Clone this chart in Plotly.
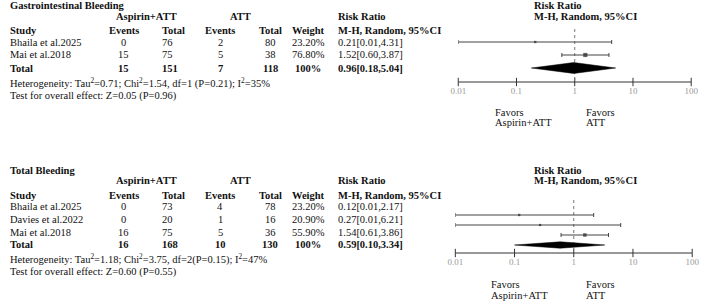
import plotly.graph_objects as go

W, H = 708, 302
FONT = "Liberation Serif, Times New Roman, serif"
FS = 10.5

# ---------------- data ----------------
gi_studies = ["Bhaila et al.2025", "Mai et al.2018"]
gi_asp_events = [0, 15]
gi_asp_total = [76, 75]
gi_att_events = [2, 5]
gi_att_total = [80, 38]
gi_weight = [23.20, 76.80]
gi_rr = [0.21, 1.52]
gi_lo = [0.01, 0.60]
gi_hi = [4.31, 3.87]
gi_total = {"asp_e": 15, "asp_t": 151, "att_e": 7, "att_t": 118, "w": "100%",
            "rr": 0.96, "lo": 0.18, "hi": 5.04}
gi_het = "Heterogeneity: Tau<sup>2</sup>=0.71; Chi<sup>2</sup>=1.54, df=1 (P=0.21); I<sup>2</sup>=35%"
gi_test = "Test for overall effect: Z=0.05 (P=0.96)"

tb_studies = ["Bhaila et al.2025", "Davies et al.2022", "Mai et al.2018"]
tb_asp_events = [0, 0, 16]
tb_asp_total = [73, 20, 75]
tb_att_events = [4, 1, 5]
tb_att_total = [78, 16, 36]
tb_weight = [23.20, 20.90, 55.90]
tb_rr = [0.12, 0.27, 1.54]
tb_lo = [0.01, 0.01, 0.61]
tb_hi = [2.17, 6.21, 3.86]
tb_total = {"asp_e": 16, "asp_t": 168, "att_e": 10, "att_t": 130, "w": "100%",
            "rr": 0.59, "lo": 0.10, "hi": 3.34}
tb_het = "Heterogeneity: Tau<sup>2</sup>=1.18; Chi<sup>2</sup>=3.75, df=2(P=0.15); I<sup>2</sup>=47%"
tb_test = "Test for overall effect: Z=0.60 (P=0.55)"

tick_vals = [0.01, 0.1, 1, 10, 100]
tick_text = ["0.01", "0.1", "1", "10", "100"]

# ---------------- helpers ----------------
def px(x):
    return x / W

def py(y):
    return 1 - y / H

annotations = []

def txt(x, y, s, bold=False, align="left", size=FS, color="#111"):
    annotations.append(dict(
        x=px(x), y=py(y), xref="paper", yref="paper", text=("<b>%s</b>" % s) if bold else s,
        showarrow=False, xanchor=align, yanchor="middle", align=align,
        borderpad=0, borderwidth=0,
        font=dict(family=FONT, size=size, color=color)))

def table(title, studies, ae, at, be, bt, wt, rr, lo, hi, tot, het, test, y0, rows_y, tot_y, het_y, test_y):
    txt(2, y0, title, bold=True)
    txt(141, y0 + 11, "Aspirin+ATT", bold=True, align="center")
    txt(238, y0 + 11, "ATT", bold=True, align="center")
    txt(337, y0 + 11, "Risk Ratio", bold=True)
    yh = y0 + 25
    txt(2, yh, "Study", bold=True)
    txt(118, yh, "Events", bold=True, align="center")
    txt(157, yh, "Total", bold=True)
    txt(217, yh, "Events", bold=True, align="center")
    txt(268, yh, "Total", bold=True, align="center")
    txt(307, yh, "Weight", bold=True, align="center")
    txt(337, yh, "M-H, Random, 95%CI", bold=True)
    for i, s in enumerate(studies):
        y = rows_y[i]
        txt(2, y, s)
        txt(118, y, str(ae[i]), align="center")
        txt(157, y, str(at[i]))
        txt(217, y, str(be[i]), align="center")
        txt(268, y, str(bt[i]), align="center")
        txt(307, y, "%.2f%%" % wt[i], align="center")
        txt(337, y, "%.2f[%.2f,%.2f]" % (rr[i], lo[i], hi[i]))
    txt(2, tot_y, "Total", bold=True)
    txt(118, tot_y, str(tot["asp_e"]), bold=True, align="center")
    txt(157, tot_y, str(tot["asp_t"]), bold=True)
    txt(217, tot_y, str(tot["att_e"]), bold=True, align="center")
    txt(268, tot_y, str(tot["att_t"]), bold=True, align="center")
    txt(307, tot_y, tot["w"], bold=True, align="center")
    txt(337, tot_y, "%.2f[%.2f,%.2f]" % (tot["rr"], tot["lo"], tot["hi"]), bold=True)
    txt(2, het_y, het)
    txt(2, test_y, test)

table("Gastrointestinal Bleeding", gi_studies, gi_asp_events, gi_asp_total, gi_att_events,
      gi_att_total, gi_weight, gi_rr, gi_lo, gi_hi, gi_total, gi_het, gi_test,
      6, [43, 55], 68, 83, 96)
table("Total Bleeding", tb_studies, tb_asp_events, tb_asp_total, tb_att_events,
      tb_att_total, tb_weight, tb_rr, tb_lo, tb_hi, tb_total, tb_het, tb_test,
      170, [207, 219, 232], 244, 259, 272)

# forest headers and favors labels
for (hx, hy, fx1, fx2, fy) in [(537, 6, 498, 590, 112), (537, 170, 493, 590, 284)]:
    txt(hx, hy, "Risk Ratio", bold=True)
    txt(hx, hy + 11, "M-H, Random, 95%CI", bold=True)
    txt(fx1, fy, "Favors")
    txt(fx1, fy + 11, "Aspirin+ATT")
    txt(fx2, fy, "Favors")
    txt(fx2, fy + 11, "ATT")

fig = go.Figure()
XR = [-2, 2]

def forest(xa, ya, rr, lo, hi, wt, tot, ybase, ytop):
    n = len(rr)
    idx = list(range(n))
    # axis baseline and tick marks (on the axis scale)
    fig.add_trace(go.Scatter(
        x=[10 ** XR[0], 10 ** XR[1]], y=[ybase, ybase], mode="lines", xaxis=xa, yaxis=ya,
        line=dict(color="#333", width=1), hoverinfo="skip", showlegend=False))
    fig.add_trace(go.Scatter(
        x=tick_vals, y=[ybase] * len(tick_vals), mode="markers", xaxis=xa, yaxis=ya,
        marker=dict(symbol="line-ns", size=6, line=dict(color="#333", width=1)),
        hoverinfo="skip", showlegend=False, cliponaxis=False))
    # reference line at RR = 1
    fig.add_trace(go.Scatter(
        x=[1, 1], y=[ytop, ybase], mode="lines", xaxis=xa, yaxis=ya,
        line=dict(color="#777", width=1, dash="dot"), hoverinfo="skip", showlegend=False))
    # study estimates with CI
    fig.add_trace(go.Scatter(
        x=rr, y=idx, mode="markers", xaxis=xa, yaxis=ya, showlegend=False,
        marker=dict(symbol="square", color="#222", size=[1.5 + w / 100 * 3.5 for w in wt],
                    line=dict(width=0)),
        error_x=dict(type="data", symmetric=False,
                     array=[h - r for h, r in zip(hi, rr)],
                     arrayminus=[r - l for r, l in zip(rr, lo)],
                     color="#444", thickness=1, width=2), cliponaxis=False))
    # pooled diamond
    yd = n
    h = 0.42 if n == 2 else 0.32
    fig.add_trace(go.Scatter(
        x=[tot["lo"], tot["rr"], tot["hi"], tot["rr"], tot["lo"]],
        y=[yd, yd - h, yd, yd + h, yd], mode="lines", fill="toself",
        fillcolor="#000", line=dict(color="#000", width=0.5), xaxis=xa, yaxis=ya,
        hoverinfo="skip", showlegend=False))

# top: rows at pixel 42 + 13*i, axis line at pixel 82
forest("x", "y", gi_rr, gi_lo, gi_hi, gi_weight, gi_total, 3.077, -1.0)
# bottom: rows at pixel 215 + 10*i, axis line at pixel 253
forest("x2", "y2", tb_rr, tb_lo, tb_hi, tb_weight, tb_total, 3.8, -1.5)

xcommon = dict(type="log", range=XR, tickvals=tick_vals, ticktext=tick_text,
               showline=False, ticks="", showgrid=False, zeroline=False,
               tickfont=dict(family=FONT, size=9, color="#999"), fixedrange=True)
ycommon = dict(showticklabels=False, showline=False, ticks="", showgrid=False,
               zeroline=False, fixedrange=True)

fig.update_layout(
    width=W, height=H, margin=dict(l=0, r=0, t=0, b=0, pad=0),
    paper_bgcolor="white", plot_bgcolor="white",
    xaxis=dict(domain=[px(460), px(698)], anchor="y", **xcommon),
    yaxis=dict(domain=[py(84), py(0)], range=[3.231, -3.231], anchor="x", **ycommon),
    xaxis2=dict(domain=[px(457), px(699)], anchor="y2", **xcommon),
    yaxis2=dict(domain=[py(255), py(150)], range=[4.0, -6.5], anchor="x2", **ycommon),
    annotations=annotations,
    showlegend=False,
)

fig.write_html("out.html")
